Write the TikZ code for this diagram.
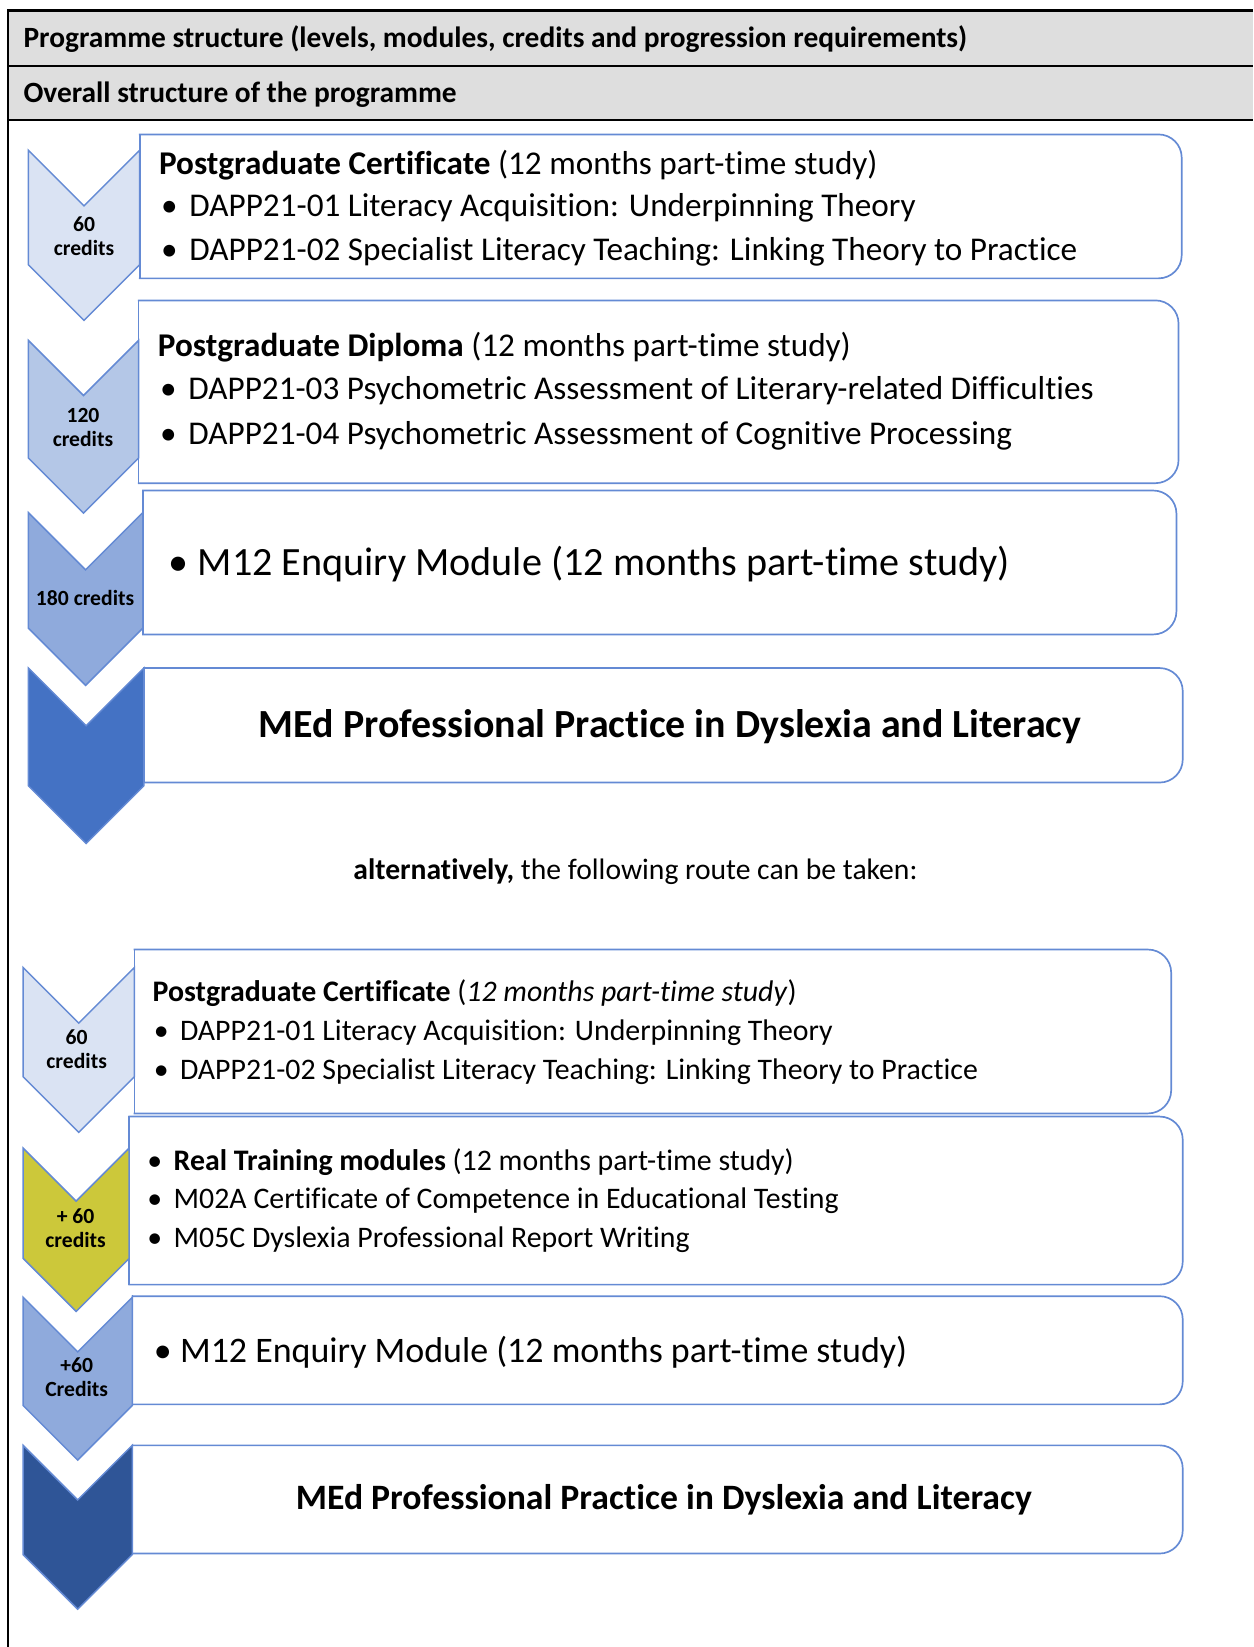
\documentclass[tikz,border=0pt]{standalone}
\usepackage{fontspec}
\setmainfont[Ligatures=NoCommon]{Carlito}
\definecolor{hdrgray}{RGB}{222,222,222}
\definecolor{bline}{RGB}{100,138,212}
\definecolor{cA}{RGB}{218,227,243}
\definecolor{cB}{RGB}{180,199,231}
\definecolor{cC}{RGB}{143,170,220}
\definecolor{cD}{RGB}{68,114,196}
\definecolor{cE}{RGB}{204,200,58}
\definecolor{cF}{RGB}{47,85,151}
\newcommand\mychev[5]{%
  \path[chevstyle,fill=#1] (#2,#4) -- ({(#2+#3)/2},{#4+(#3-#2)/2}) -- (#3,#4) -- (#3,#5)
    -- ({(#2+#3)/2},{#5+(#3-#2)/2}) -- (#2,#5) -- cycle;}
\newcommand\mybox[4]{%
  \draw[boxstyle,rounded corners=11pt] (#1,#2) -- (#3,#2) -- (#3,#4) -- (#1,#4);
  \draw[boxstyle] (#1,#2) -- (#1,#4);}
\tikzset{
  chevstyle/.style={draw=bline,line width=0.7pt,line join=miter},
  boxstyle/.style={draw=bline,line width=0.8pt,line cap=rect},
  txt/.style={inner sep=0pt,anchor=mid west,font=\fontsize{15.8pt}{19pt}\selectfont},
  txtsm/.style={txt,font=\fontsize{14.2pt}{17pt}\selectfont},
  txtbig/.style={txt,font=\fontsize{19.1pt}{22pt}\selectfont},
  txtmid/.style={txt,font=\fontsize{17.1pt}{20pt}\selectfont},
  cred/.style={inner sep=0pt,align=center,font=\bfseries\fontsize{10.3pt}{11.5pt}\selectfont},
  hdr/.style={inner sep=0pt,anchor=mid west,font=\bfseries\fontsize{14pt}{16pt}\selectfont},
}
\begin{document}
\begin{tikzpicture}[x=0.5pt,y=-0.5pt]
\useasboundingbox (0,0) rectangle (1193,1568);
% header frame
\fill[hdrgray] (8,10) rectangle (1193,114);
\draw[line width=1pt] (1193,10) -- (8,10) -- (8,1568);
\draw[line width=1pt] (8,63) -- (1193,63);
\draw[line width=1pt] (8,114) -- (1193,114);
\node[hdr] (h1) at (22,40) {Programme structure (levels, modules, credits and progression requirements)};
\node[hdr] (h2) at (22,93) {Overall structure of the programme};
% ---------- section 1 ----------
\mybox{133}{128}{1125}{265}
\mybox{132}{286}{1122}{460}
\mybox{136}{467}{1120}{604}
\mybox{137}{636}{1126}{745}
\mychev{cA}{27}{133}{143}{252}
\mychev{cB}{27}{132}{324}{436}
\mychev{cC}{27}{136}{488}{598}
\mychev{cD}{27}{137}{636}{748}
\node[cred] (c1) at (80,225) {60\\credits};
\node[cred] (c2) at (79,407) {120\\credits};
\node[cred] (c3) at (81,569) {180 credits};
\node[txt] (t11) at (151,161) {\textbf{Postgraduate Certificate} (12 months part-time study)};
\node[txt] (b12) at (153,201) {\textbullet};
\node[txt] (t12) at (180,201) {DAPP21-01 Literacy Acquisition: Underpinning Theory};
\node[txt] (b13) at (153,243) {\textbullet};
\node[txt] (t13) at (180,243) {DAPP21-02 Specialist Literacy Teaching: Linking Theory to Practice};
\node[txt] (t21) at (150,335) {\textbf{Postgraduate Diploma} (12 months part-time study)};
\node[txt] (b22) at (152,376) {\textbullet};
\node[txt] (t22) at (179,376) {DAPP21-03 Psychometric Assessment of Literary-related Difficulties};
\node[txt] (b23) at (152,418) {\textbullet};
\node[txt] (t23) at (179,418) {DAPP21-04 Psychometric Assessment of Cognitive Processing};
\node[txtbig] (b31) at (160,543) {\textbullet};
\node[txtbig] (t31) at (188,543) {M12 Enquiry Module (12 months part-time study)};
\node[inner sep=0pt,anchor=mid,font=\bfseries\fontsize{19pt}{22pt}\selectfont] (t41) at (638,697) {MEd Professional Practice in Dyslexia and Literacy};
% ---------- middle ----------
\node[inner sep=0pt,anchor=mid,font=\fontsize{14.1pt}{17pt}\selectfont] (alt) at (605,833) {\textbf{alternatively,} the following route can be taken:};
% ---------- section 2 ----------
\mybox{128}{904}{1115}{1060}
\mybox{123}{1063}{1126}{1223}
\mybox{126}{1234}{1126}{1337}
\mybox{126}{1376}{1126}{1479}
\mychev{cA}{22}{128}{921}{1025}
\mychev{cE}{22}{123}{1093}{1198}
\mychev{cC}{22}{126}{1235}{1338}
\mychev{cF}{22}{126}{1376}{1480}
\node[cred] (c5) at (73,999) {60\\credits};
\node[cred] (c6) at (72,1169) {+ 60\\credits};
\node[cred] (c7) at (73,1311) {+60\\Credits};
\node[txtsm] (t51) at (145,949) {\textbf{Postgraduate Certificate} (\textit{12 months part-time study})};
\node[txtsm] (b52) at (146,986) {\textbullet};
\node[txtsm] (t52) at (171,986) {DAPP21-01 Literacy Acquisition: Underpinning Theory};
\node[txtsm] (b53) at (146,1023) {\textbullet};
\node[txtsm] (t53) at (171,1023) {DAPP21-02 Specialist Literacy Teaching: Linking Theory to Practice};
\node[txtsm] (b61) at (140,1110) {\textbullet};
\node[txtsm] (t61) at (165,1110) {\textbf{Real Training modules} (12 months part-time study)};
\node[txtsm] (b62) at (140,1146) {\textbullet};
\node[txtsm] (t62) at (165,1146) {M02A Certificate of Competence in Educational Testing};
\node[txtsm] (b63) at (140,1183) {\textbullet};
\node[txtsm] (t63) at (165,1183) {M05C Dyslexia Professional Report Writing};
\node[txtmid] (b71) at (146,1292) {\textbullet};
\node[txtmid] (t71) at (171,1292) {M12 Enquiry Module (12 months part-time study)};
\node[inner sep=0pt,anchor=mid,font=\bfseries\fontsize{17pt}{20pt}\selectfont] (t81) at (632,1432) {MEd Professional Practice in Dyslexia and Literacy};
\end{tikzpicture}
\end{document}
